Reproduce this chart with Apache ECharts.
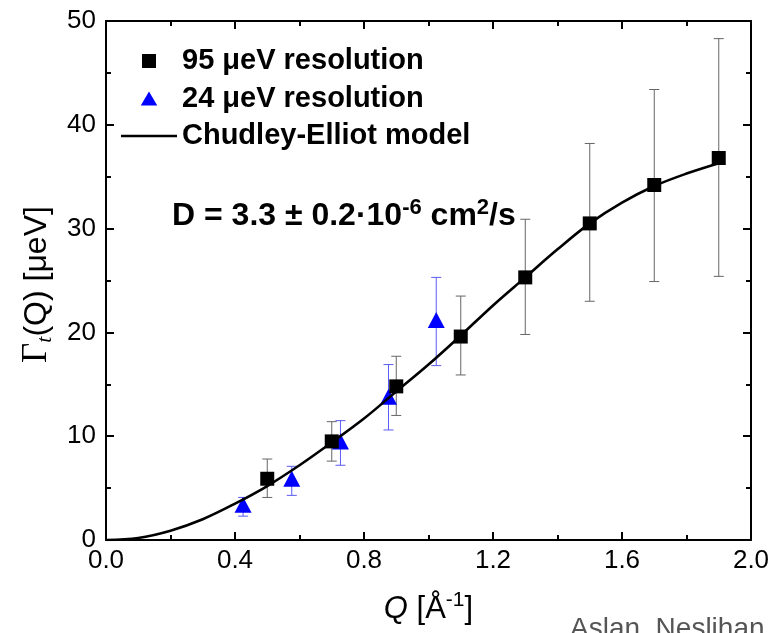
<!DOCTYPE html>
<html>
<head>
<meta charset="utf-8">
<script src="https://cdn.jsdelivr.net/npm/echarts@6/dist/echarts.min.js"></script>
<style>
html,body{margin:0;padding:0;background:#fff;}
#chart{width:773px;height:633px;}
</style>
</head>
<body>
<div id="chart"></div>
<script>
// 95 µeV resolution data
var q95 = [0.5, 0.7, 0.9, 1.1, 1.3, 1.5, 1.7, 1.9];
var g95 = [5.9, 9.5, 14.8, 19.6, 25.3, 30.5, 34.2, 36.8];
var lo95 = [4.1, 7.6, 12.0, 15.9, 19.8, 23.0, 24.9, 25.4];
var hi95 = [7.8, 11.4, 17.7, 23.5, 30.9, 38.2, 43.4, 48.3];
// 24 µeV resolution data
var q24 = [0.425, 0.576, 0.727, 0.876, 1.024];
var g24 = [3.4, 5.9, 9.5, 13.8, 21.2];
var lo24 = [2.3, 4.3, 7.2, 10.6, 16.8];
var hi24 = [4.1, 7.1, 11.5, 16.9, 25.3];
// Chudley-Elliot model curve
var qModel = [0.0, 0.1, 0.2, 0.3, 0.4, 0.5, 0.6, 0.7, 0.8, 0.9, 1.0, 1.1, 1.2, 1.3, 1.4, 1.5, 1.6, 1.7, 1.8, 1.9];
var gModel = [0.0, 0.2, 0.9, 2.0, 3.5, 5.2, 7.2, 9.4, 11.7, 14.3, 16.9, 19.7, 22.6, 25.3, 28.0, 30.5, 32.5, 34.1, 35.3, 36.3];
// tick settings
var xMin = 0, xMax = 2.0, xStep = 0.4;
var yMin = 0, yMax = 50, yStep = 10;

var names = ['95 \u03bceV resolution', '24 \u03bceV resolution', 'Chudley-Elliot model'];

function zip2(a, b) { return a.map(function (v, i) { return [v, b[i]]; }); }
function zip3(a, b, c) { return a.map(function (v, i) { return [v, b[i], c[i]]; }); }

function errRender(color, cap) {
  return function (params, api) {
    var x = api.value(0), lo = api.value(1), hi = api.value(2);
    var p1 = api.coord([x, lo]), p2 = api.coord([x, hi]);
    var st = { stroke: color, lineWidth: 1, fill: null };
    return {
      type: 'group',
      children: [
        { type: 'line', shape: { x1: p1[0], y1: p1[1], x2: p2[0], y2: p2[1] }, style: st },
        { type: 'line', shape: { x1: p1[0] - cap, y1: p1[1], x2: p1[0] + cap, y2: p1[1] }, style: st },
        { type: 'line', shape: { x1: p2[0] - cap, y1: p2[1], x2: p2[0] + cap, y2: p2[1] }, style: st }
      ]
    };
  };
}

var FONT = 'Liberation Sans, Arial, sans-serif';
var SERIF = 'Liberation Serif, Times New Roman, serif';
var axisCommon = {
  axisLine: { show: true, onZero: false, lineStyle: { color: '#000', width: 2 } },
  axisTick: { show: true, inside: true, length: 8, lineStyle: { color: '#000', width: 2 } },
  minorTick: { show: true, splitNumber: 2, length: 5, lineStyle: { color: '#000', width: 2 } },
  splitLine: { show: false },
  minorSplitLine: { show: false }
};

function mk(base, extra) {
  var o = JSON.parse(JSON.stringify(base));
  for (var k in extra) o[k] = extra[k];
  return o;
}

var chart = echarts.init(document.getElementById('chart'), null, { renderer: 'canvas' });
var option = {
  backgroundColor: '#fff',
  animation: false,
  grid: { left: 106, right: 22, top: 21, bottom: 93, containLabel: false },
  legend: {
    orient: 'vertical',
    left: 121,
    top: 45,
    padding: 0,
    itemWidth: 56,
    itemHeight: 14,
    itemGap: 5.5,
    symbolKeepAspect: true,
    selectedMode: false,
    data: [
      { name: names[0], icon: 'path://M0,0 L10,0 L10,10 L0,10 Z' },
      { name: names[1], icon: 'path://M5,0 L10,8.5 L0,8.5 Z' },
      { name: names[2], icon: 'path://M0,0 L56,0 L56,2.6 L0,2.6 Z' }
    ],
    textStyle: { fontFamily: FONT, fontWeight: 'bold', fontSize: 29, color: '#000', lineHeight: 32 }
  },
  xAxis: [
    mk(axisCommon, {
      type: 'value', min: xMin, max: xMax, interval: xStep, position: 'bottom',
      axisLabel: { show: true, margin: 8, fontFamily: FONT, fontSize: 26, color: '#000',
        formatter: function (v) { return v.toFixed(1); } },
      name: '{q|Q}{n| [\u00c5}{s|-1}{n|]}',
      nameLocation: 'middle',
      nameGap: 50,
      nameTextStyle: {
        rich: {
          q: { fontFamily: FONT, fontStyle: 'italic', fontSize: 31, color: '#000', lineHeight: 38 },
          n: { fontFamily: FONT, fontSize: 31, color: '#000', lineHeight: 38 },
          s: { fontFamily: FONT, fontSize: 21, color: '#000', verticalAlign: 'top', lineHeight: 21 }
        }
      }
    }),
    mk(axisCommon, {
      type: 'value', min: xMin, max: xMax, interval: xStep, position: 'top',
      axisLabel: { show: false }
    })
  ],
  yAxis: [
    mk(axisCommon, {
      type: 'value', min: yMin, max: yMax, interval: yStep, position: 'left',
      axisLabel: { show: true, margin: 10, fontFamily: FONT, fontSize: 26, color: '#000' },
      name: '{g|\u0393}{t|t}{n|(Q) [\u03bceV]}',
      nameLocation: 'middle',
      nameRotate: 90,
      nameGap: 50,
      nameTextStyle: {
        padding: [0, 8, 0, 0],
        rich: {
          g: { fontFamily: SERIF, fontSize: 35, color: '#000', lineHeight: 38 },
          t: { fontFamily: SERIF, fontStyle: 'italic', fontSize: 22, color: '#000', verticalAlign: 'bottom', lineHeight: 22 },
          n: { fontFamily: FONT, fontSize: 32, color: '#000', lineHeight: 38 }
        }
      }
    }),
    mk(axisCommon, {
      type: 'value', min: yMin, max: yMax, interval: yStep, position: 'right',
      axisLabel: { show: false }
    })
  ],
  graphic: [
    {
      type: 'text',
      left: 172,
      top: 197,
      style: {
        text: '{a|D = 3.3 \u00b1 0.2\u00b710}{s|-6}{a| cm}{s|2}{a|/s}',
        rich: {
          a: { fontFamily: FONT, fontWeight: 'bold', fontSize: 32, fill: '#000', lineHeight: 38 },
          s: { fontFamily: FONT, fontWeight: 'bold', fontSize: 22, fill: '#000', verticalAlign: 'top', lineHeight: 23 }
        }
      }
    },
    {
      type: 'text',
      left: 570,
      top: 615,
      style: { text: 'Aslan, Neslihan', fontFamily: FONT, fontSize: 28, fill: '#555' }
    }
  ],
  series: [
    {
      type: 'custom', name: 'err95', z: 1, silent: true,
      renderItem: errRender('#666', 5),
      data: zip3(q95, lo95, hi95),
      encode: { x: 0, y: [1, 2] }
    },
    {
      type: 'custom', name: 'err24', z: 1, silent: true,
      renderItem: errRender('#5b5bf5', 5),
      data: zip3(q24, lo24, hi24),
      encode: { x: 0, y: [1, 2] }
    },
    {
      type: 'scatter', name: names[1], z: 2,
      symbol: 'triangle', symbolSize: [17, 16],
      itemStyle: { color: '#0000ff', opacity: 1 },
      data: zip2(q24, g24)
    },
    {
      type: 'line', name: names[2], z: 3,
      symbol: 'none', smooth: 0.35,
      lineStyle: { color: '#000', width: 2.6 },
      itemStyle: { color: '#000' },
      data: zip2(qModel, gModel)
    },
    {
      type: 'scatter', name: names[0], z: 4,
      symbol: 'rect', symbolSize: 14,
      itemStyle: { color: '#000', opacity: 1 },
      data: zip2(q95, g95)
    }
  ]
};
chart.setOption(option);
</script>
</body>
</html>
